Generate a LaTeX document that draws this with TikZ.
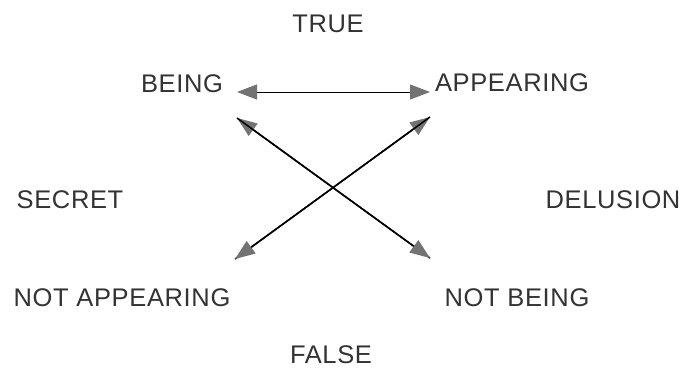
\documentclass[tikz,border=0pt]{standalone}
\usepackage{fontspec}
\setmainfont[LetterSpace=2.5]{Liberation Sans}
\usetikzlibrary{arrows.meta}
\begin{document}
\begin{tikzpicture}[x=1pt,y=-1pt,
  lbl/.style={inner sep=0pt,text=black!80,font=\fontsize{25.5}{30}\selectfont},
  tip/.style={-{Triangle[length=20pt,width=15pt,color=black!55]}},
  dtip/.style={{Triangle[length=20pt,width=15pt,color=black!55]}-{Triangle[length=20pt,width=15pt,color=black!55]}}]
\useasboundingbox[fill=white] (0,0) rectangle (684,368);
\node[lbl] (true) at (328,24) {TRUE};
\node[lbl] (being) at (182,84) {BEING};
\node[lbl] (appearing) at (512,83) {APPEARING};
\node[lbl] (secret) at (70,200) {SECRET};
\node[lbl] (delusion) at (613,200) {DELUSION};
\node[lbl] (notapp) at (122,298) {NOT APPEARING};
\node[lbl] (notbeing) at (517,298) {NOT BEING};
\node[lbl] (false) at (331,355) {FALSE};
\coordinate (hl) at (237,92);
\coordinate (hr) at (430,92);
\coordinate (ul) at (237,118);
\coordinate (ur) at (430,117);
\coordinate (ll) at (235,259);
\coordinate (lr) at (430,258);
\draw[dtip,line width=1pt] (hl) -- (hr);
\draw[tip,line width=1.5pt] (lr) -- (ul);
\draw[tip,line width=1.5pt] (ul) -- (lr);
\draw[tip,line width=1.5pt] (ll) -- (ur);
\draw[tip,line width=1.5pt] (ur) -- (ll);
\end{tikzpicture}
\end{document}
